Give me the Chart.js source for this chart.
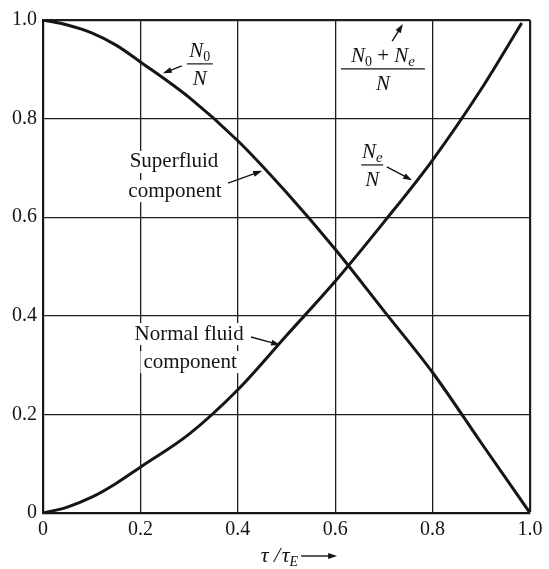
<!DOCTYPE html>
<html>
<head>
<meta charset="utf-8">
<script src="https://cdn.jsdelivr.net/npm/chart.js@4/dist/chart.umd.min.js"></script>
<style>
  html, body { margin: 0; padding: 0; background: #fff; }
  #wrap { width: 549px; height: 569px; }
</style>
</head>
<body>
<div id="wrap"><canvas id="chart"></canvas></div>
<script>
// reduced temperature tau/tauE
const tauSuper = [0, 0.05, 0.1, 0.15, 0.2, 0.3, 0.4, 0.5, 0.6, 0.7, 0.8, 0.9, 1.0];
const superfluid = [1.0, 0.99, 0.974, 0.949, 0.915, 0.843, 0.755, 0.65, 0.535, 0.41, 0.285, 0.142, 0.0];
const tauNormal = [0, 0.05, 0.1, 0.15, 0.2, 0.3, 0.4, 0.5, 0.6, 0.7, 0.8, 0.9, 0.983];
const normalFluid = [0, 0.012, 0.032, 0.06, 0.093, 0.16, 0.25, 0.36, 0.47, 0.59, 0.716, 0.86, 0.994];
const tickValues = [0, 0.2, 0.4, 0.6, 0.8, 1.0];

const SERIF = '"Liberation Serif", "DejaVu Serif", serif';
const INK = '#151515';

function toPoints(xs, ys) {
  return xs.map((x, i) => ({ x, y: ys[i] }));
}

// labels placed in data units, converted through the scales
const textLabels = [
  { text: 'Superfluid', x: 0.269, y: 0.712 },
  { text: 'component', x: 0.271, y: 0.653 },
  { text: 'Normal fluid', x: 0.300, y: 0.363 },
  { text: 'component', x: 0.302, y: 0.306 },
];
const fractions = [
  { num: [['N', 'i'], ['0', 'sub']], x: 0.322, y: 0.911, half: 13 },
  { num: [['N', 'i'], ['0', 'sub'], [' + ', 'r'], ['N', 'i'], ['e', 'isub']], x: 0.698, y: 0.901, half: 42 },
  { num: [['N', 'i'], ['e', 'isub']], x: 0.676, y: 0.706, half: 11 },
];
const arrows = [
  { from: [0.285, 0.907], to: [0.246, 0.892] },
  { from: [0.717, 0.957], to: [0.739, 0.992] },
  { from: [0.706, 0.702], to: [0.758, 0.675] },
  { from: [0.380, 0.669], to: [0.450, 0.694] },
  { from: [0.427, 0.357], to: [0.487, 0.341] },
];

function drawArrow(ctx, x1, y1, x2, y2) {
  const a = Math.atan2(y2 - y1, x2 - x1);
  ctx.beginPath();
  ctx.moveTo(x1, y1);
  ctx.lineTo(x2 - 6 * Math.cos(a), y2 - 6 * Math.sin(a));
  ctx.lineWidth = 1.4;
  ctx.strokeStyle = INK;
  ctx.stroke();
  ctx.beginPath();
  ctx.moveTo(x2, y2);
  ctx.lineTo(x2 - 9 * Math.cos(a) + 3 * Math.sin(a), y2 - 9 * Math.sin(a) - 3 * Math.cos(a));
  ctx.lineTo(x2 - 9 * Math.cos(a) - 3 * Math.sin(a), y2 - 9 * Math.sin(a) + 3 * Math.cos(a));
  ctx.closePath();
  ctx.fillStyle = INK;
  ctx.fill();
}

function runFont(kind) {
  if (kind === 'i') return 'italic 21px ' + SERIF;
  if (kind === 'sub') return '14px ' + SERIF;
  if (kind === 'isub') return 'italic 15px ' + SERIF;
  return '21px ' + SERIF;
}

function drawRuns(ctx, runs, cx, baseline) {
  let w = 0;
  runs.forEach(([t, k]) => { ctx.font = runFont(k); w += ctx.measureText(t).width; });
  let x = cx - w / 2;
  runs.forEach(([t, k]) => {
    ctx.font = runFont(k);
    const dy = (k === 'sub' || k === 'isub') ? 4 : 0;
    ctx.fillText(t, x, baseline + dy);
    x += ctx.measureText(t).width;
  });
}

const annotate = {
  id: 'annotate',
  afterDatasetsDraw(chart) {
    const { ctx, scales: { x, y } } = chart;
    ctx.save();

    textLabels.forEach(l => {
      ctx.font = '21px ' + SERIF;
      const w = ctx.measureText(l.text).width;
      const px = x.getPixelForValue(l.x), py = y.getPixelForValue(l.y);
      ctx.fillStyle = '#fff';
      ctx.fillRect(px - w / 2 - 3, py - 11, w + 6, 22);
      ctx.fillStyle = INK;
      ctx.textAlign = 'center';
      ctx.textBaseline = 'middle';
      ctx.fillText(l.text, px, py);
    });

    ctx.textAlign = 'left';
    ctx.textBaseline = 'alphabetic';
    fractions.forEach(f => {
      const px = x.getPixelForValue(f.x), py = y.getPixelForValue(f.y);
      ctx.fillStyle = INK;
      drawRuns(ctx, f.num, px, py - 7);
      drawRuns(ctx, [['N', 'i']], px, py + 21);
      ctx.beginPath();
      ctx.moveTo(px - f.half, py);
      ctx.lineTo(px + f.half, py);
      ctx.lineWidth = 1.2;
      ctx.strokeStyle = INK;
      ctx.stroke();
    });

    arrows.forEach(a => {
      drawArrow(ctx,
        x.getPixelForValue(a.from[0]), y.getPixelForValue(a.from[1]),
        x.getPixelForValue(a.to[0]), y.getPixelForValue(a.to[1]));
    });

    // axis title tau/tauE with arrow
    const tx = x.getPixelForValue(0.447), ty = 562;
    ctx.fillStyle = INK;
    ctx.font = 'italic 22px ' + SERIF;
    const parts = ['τ', ' / ', 'τ'];
    let cx = tx;
    parts.forEach(p => { ctx.fillText(p, cx, ty); cx += ctx.measureText(p).width - (p === ' / ' ? 4 : 0); });
    ctx.font = 'italic 14px ' + SERIF;
    ctx.fillText('E', cx, ty + 4);
    cx += ctx.measureText('E').width + 3;
    drawArrow(ctx, cx, ty - 6, cx + 36, ty - 6);
    ctx.restore();
  }
};

const gridWidth = c => (c.tick && Math.abs(c.tick.value - 1) < 1e-6) ? 2.2 : 1.3;

new Chart(document.getElementById('chart'), {
  type: 'line',
  data: {
    datasets: [
      { label: 'N0/N', data: toPoints(tauSuper, superfluid) },
      { label: 'Ne/N', data: toPoints(tauNormal, normalFluid) },
    ]
  },
  options: {
    responsive: true,
    maintainAspectRatio: false,
    animation: false,
    layout: { padding: { top: 20, right: 19, left: 0, bottom: 0 } },
    elements: {
      line: { borderColor: INK, borderWidth: 3, cubicInterpolationMode: 'monotone', fill: false },
      point: { radius: 0 }
    },
    plugins: { legend: { display: false }, tooltip: { enabled: false } },
    scales: {
      x: {
        type: 'linear', min: 0, max: 1,
        afterBuildTicks: s => { s.ticks = tickValues.map(v => ({ value: v })); },
        afterFit: s => { s.height = 56; },
        grid: { color: '#1e1e1e', lineWidth: gridWidth, drawTicks: false },
        border: { color: INK, width: 2.2 },
        ticks: {
          padding: 5, color: INK, maxRotation: 0,
          font: { family: SERIF, size: 20 },
          callback: v => v === 0 ? '0' : v.toFixed(1)
        }
      },
      y: {
        min: 0, max: 1,
        afterBuildTicks: s => { s.ticks = tickValues.map(v => ({ value: v })); },
        afterFit: s => { s.width = 43; },
        grid: { color: '#1e1e1e', lineWidth: gridWidth, drawTicks: false },
        border: { color: INK, width: 2.2 },
        ticks: {
          padding: 6, color: INK,
          font: { family: SERIF, size: 20 },
          callback: v => v === 0 ? '0' : v.toFixed(1)
        }
      }
    }
  },
  plugins: [annotate]
});
</script>
</body>
</html>
